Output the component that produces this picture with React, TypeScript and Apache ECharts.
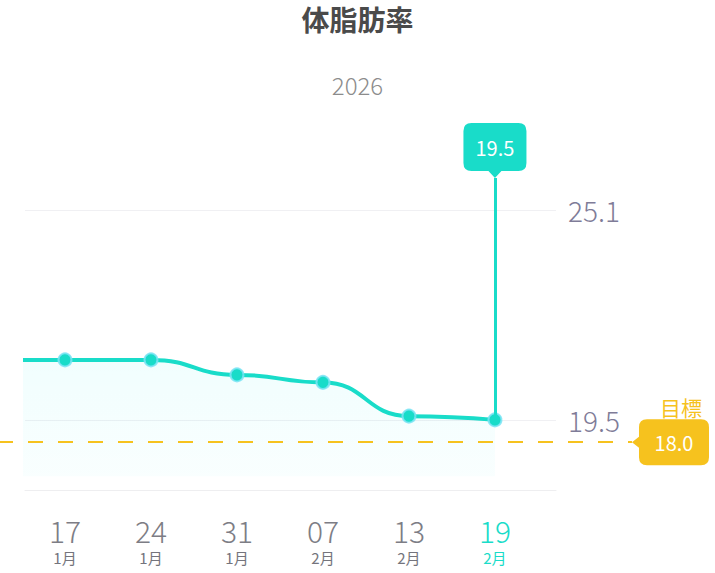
import { useEffect, useRef } from 'react';
import * as echarts from 'echarts';

// first entry sits just left of the visible window (chart is scrolled)
const days = ['10', '17', '24', '31', '07', '13', '19'];
const months = ['1月', '1月', '1月', '1月', '2月', '2月', '2月'];
const bodyFat = [21.1, 21.1, 21.1, 20.7, 20.5, 19.6, 19.5];
const yTickLabels = [25.1, 19.5];
const goal = 18.0;
const firstShown = 1;

const TEAL = '#19dcc9';
const GOLD = '#f6c21e';
const FONT = "'Noto Sans CJK JP', 'Noto Sans', sans-serif";

const Y_MIN = 17.63;
const Y_MAX = 25.95;

const bubblePath =
  'path://M8,0 L55,0 Q63,0 63,8 L63,40 Q63,48 55,48 L38,48 L31.5,55 L25,48 L8,48 Q0,48 0,40 L0,8 Q0,0 8,0 Z';
const goalPath =
  'path://M0,23 L7,17.5 L7,8 Q7,0 15,0 L69,0 Q77,0 77,8 L77,38 Q77,46 69,46 L15,46 Q7,46 7,38 L7,28.5 Z';

const Chart = () => {
  const chartRef = useRef<HTMLDivElement>(null);

  useEffect(() => {
    if (!chartRef.current) return;
    document.body.style.margin = '0';
    const chart = echarts.init(chartRef.current, null, { renderer: 'svg' });

    const xs = days.map((_, i) => i - firstShown);
    const xTicks = xs.filter(x => x >= 0);
    const lastIdx = days.length - 1;
    const latestX = xs[lastIdx];
    const latest = bodyFat[lastIdx];

    const options: echarts.EChartsOption = {
      animation: false,
      textStyle: { fontFamily: FONT },
      title: [
        {
          text: '体脂肪率',
          left: 'center',
          top: 0,
          textStyle: { fontSize: 28, fontWeight: 'bold', color: '#4a4a4a', fontFamily: FONT }
        },
        {
          text: '2026',
          left: 'center',
          top: 67,
          textStyle: { fontSize: 24, fontWeight: 300, color: '#8c8c8c', fontFamily: FONT }
        }
      ],
      grid: [
        { left: 25, right: 159, top: 178, bottom: 83 },
        { left: 0, right: 83, top: 178, bottom: 83 }
      ],
      xAxis: [
        {
          type: 'value',
          gridIndex: 0,
          min: -0.465,
          max: 5.71,
          axisLine: { show: true, onZero: false, lineStyle: { color: '#eeeef0', width: 1 } },
          axisTick: { show: false },
          splitLine: { show: false },
          axisLabel: {
            customValues: xTicks,
            margin: 24,
            formatter: (v: number) => {
              const i = Math.round(v) + firstShown;
              return i === lastIdx
                ? `{dh|${days[i]}}\n{mh|${months[i]}}`
                : `{d|${days[i]}}\n{m|${months[i]}}`;
            },
            rich: {
              d: { fontSize: 30, lineHeight: 31, fontWeight: 300, color: '#7d7d85', fontFamily: FONT },
              m: { fontSize: 15, lineHeight: 24, fontWeight: 'normal', color: '#74747c', fontFamily: FONT },
              dh: { fontSize: 30, lineHeight: 31, fontWeight: 300, color: TEAL, fontFamily: FONT },
              mh: { fontSize: 15, lineHeight: 24, fontWeight: 'normal', color: TEAL, fontFamily: FONT }
            }
          }
        } as any,
        { type: 'value', gridIndex: 1, min: 0, max: 1, show: false }
      ],
      yAxis: [
        {
          type: 'value',
          gridIndex: 0,
          position: 'right',
          min: Y_MIN,
          max: Y_MAX,
          axisLine: { show: false },
          axisTick: { show: false, customValues: yTickLabels },
          splitLine: { show: true, lineStyle: { color: '#f0f0f3', width: 1 } },
          axisLabel: {
            customValues: yTickLabels,
            formatter: (v: number) => v.toFixed(1),
            fontSize: 28,
            fontWeight: 300,
            color: '#7f7c98',
            margin: 12
          }
        } as any,
        { type: 'value', gridIndex: 1, min: 16.5, max: 26.1, show: false }
      ],
      series: [
        {
          type: 'line',
          xAxisIndex: 0,
          yAxisIndex: 0,
          data: xs.map((x, i) => [x, bodyFat[i]]),
          smooth: 0.5,
          smoothMonotone: 'x',
          symbol: 'circle',
          symbolSize: 13,
          lineStyle: { color: TEAL, width: 4 },
          itemStyle: { color: TEAL, borderColor: 'rgba(125,228,245,0.85)', borderWidth: 2 },
          areaStyle: {
            origin: goal,
            color: new echarts.graphic.LinearGradient(0, 0, 0, 1, [
              { offset: 0, color: 'rgba(0,235,235,0.08)' },
              { offset: 1, color: 'rgba(0,235,235,0.035)' }
            ])
          },
          emphasis: { disabled: true },
          markLine: {
            silent: true,
            symbol: 'none',
            label: { show: false },
            lineStyle: { color: TEAL, width: 3, type: 'solid' },
            data: [[{ coord: [latestX, latest] }, { coord: [latestX, Y_MAX] }]]
          },
          markPoint: {
            silent: true,
            symbol: bubblePath,
            symbolSize: [63, 55],
            symbolOffset: [0, '-50%'],
            itemStyle: { color: TEAL },
            label: {
              show: true,
              position: 'inside',
              offset: [0, -3.5],
              color: '#ffffff',
              fontSize: 20,
              fontFamily: FONT,
              formatter: latest.toFixed(1)
            },
            data: [{ coord: [latestX, Y_MAX] }]
          }
        } as any,
        {
          type: 'line',
          xAxisIndex: 1,
          yAxisIndex: 1,
          data: [],
          markLine: {
            silent: true,
            symbol: 'none',
            label: { show: false },
            lineStyle: { color: GOLD, width: 2, type: [15, 15], dashOffset: 2 },
            data: [{ yAxis: goal }]
          },
          markPoint: {
            silent: true,
            data: [
              {
                coord: [1, goal],
                symbol: goalPath,
                symbolSize: [77, 46],
                symbolOffset: ['50%', 1],
                itemStyle: { color: GOLD },
                label: {
                  show: true,
                  position: 'inside',
                  offset: [3.5, 0],
                  color: '#ffffff',
                  fontSize: 20,
                  fontFamily: FONT,
                  formatter: goal.toFixed(1)
                }
              },
              {
                coord: [1, goal],
                symbol: 'rect',
                symbolSize: 1,
                itemStyle: { color: 'rgba(0,0,0,0)' },
                label: {
                  show: true,
                  position: 'inside',
                  offset: [49, -34],
                  color: GOLD,
                  fontSize: 21,
                  fontFamily: FONT,
                  formatter: '目標'
                }
              }
            ]
          }
        } as any
      ]
    };

    chart.setOption(options);

    return () => {
      chart.dispose();
    };
  }, []);

  return <div ref={chartRef} style={{ width: '715px', height: '573px' }} />;
};

export default function App() {
  return <Chart />;
}
